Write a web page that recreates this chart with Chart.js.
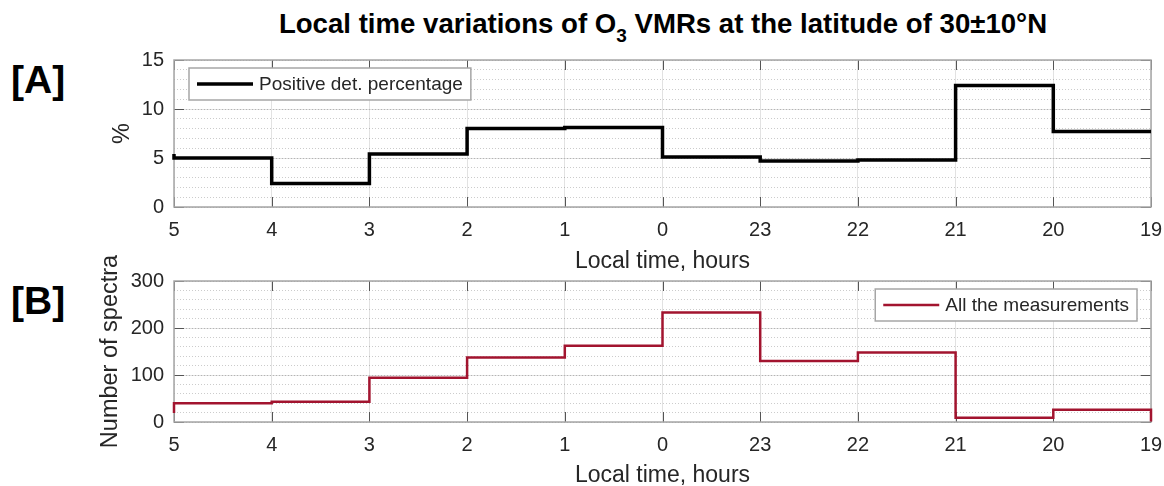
<!DOCTYPE html>
<html>
<head>
<meta charset="utf-8">
<script src="https://cdn.jsdelivr.net/npm/chart.js@4.4.1/dist/chart.umd.min.js"></script>
<style>
  body { margin: 0; width: 1164px; height: 486px; overflow: hidden; background: #fff;
         font-family: "Liberation Sans", Arial, sans-serif; }
  .panel { position: absolute; left: 0; width: 1164px; }
  #panelA { top: 0; height: 280px; }
  #panelB { top: 240px; height: 270px; }
  #title { position: absolute; top: 10px; left: 663px; transform: translateX(-50%); white-space: nowrap;
           font-weight: bold; font-size: 27.6px; line-height: 1; color: #000; }
  #title sub { font-size: 19px; vertical-align: -9px; line-height: 0; }
  .tag { position: absolute; left: 11px; font-weight: bold; font-size: 39px; line-height: 1; color: #000; }
</style>
</head>
<body>
<div id="title">Local time variations of O<sub>3</sub> VMRs at the latitude of 30&plusmn;10&deg;N</div>
<div class="tag" style="top:60px">[A]</div>
<div class="tag" style="top:281px">[B]</div>
<div class="panel" id="panelA"><canvas id="chartA"></canvas></div>
<div class="panel" id="panelB"><canvas id="chartB"></canvas></div>
<script>
// hour boundaries, read right-to-left in local time
const hourLabels = ['5', '4', '3', '2', '1', '0', '23', '22', '21', '20', '19'];

// one value per hour bin
const positivePct = [5.0, 2.4, 5.4, 8.0, 8.1, 5.1, 4.7, 4.8, 12.4, 7.7];
const positivePctEnds = [5.4, 7.7];
const spectraCount = [40, 43, 94, 137, 162, 233, 130, 148, 9, 26];
const spectraCountEnds = [19, 1];

const pctTicks = [0, 5, 10, 15];
const countTicks = [0, 100, 200, 300];

const TEXT = '#262626';
const FONT = '"Liberation Sans", Arial, sans-serif';

// stairs: lead-in at the left edge, one step per bin, closing drop at the right edge
function stairs(values, ends) {
  const pts = [{ x: 0, y: ends[0] }];
  values.forEach((v, i) => pts.push({ x: i, y: v }));
  pts.push({ x: values.length, y: values[values.length - 1] });
  pts.push({ x: values.length, y: ends[1] });
  return pts;
}

// axes box, inward tick marks and a boxed legend
const framePlugin = {
  id: 'frame',
  beforeDatasetsDraw(chart) {
    const { ctx, chartArea: a, scales } = chart;
    ctx.save();
    ctx.strokeStyle = '#555';
    ctx.lineWidth = 1;
    ctx.beginPath();
    scales.x.ticks.forEach(t => {
      const px = Math.round(scales.x.getPixelForValue(t.value)) + 0.5;
      ctx.moveTo(px, a.bottom); ctx.lineTo(px, a.bottom - 10);
      ctx.moveTo(px, a.top); ctx.lineTo(px, a.top + 10);
    });
    scales.y.ticks.forEach(t => {
      const py = Math.round(scales.y.getPixelForValue(t.value)) + 0.5;
      ctx.moveTo(a.left, py); ctx.lineTo(a.left + 10, py);
      ctx.moveTo(a.right, py); ctx.lineTo(a.right - 10, py);
    });
    ctx.stroke();
    ctx.strokeStyle = '#a6a6a6';
    ctx.lineWidth = 1.5;
    ctx.strokeRect(a.left, a.top, a.width, a.height);
    ctx.restore();
  },
  afterDatasetsDraw(chart, args, opts) {
    const { ctx, chartArea: a } = chart;
    const ds = chart.data.datasets[0];
    ctx.save();
    ctx.font = '19px ' + FONT;
    const tw = ctx.measureText(ds.label).width;
    const w = 8 + 56 + 6 + tw + 8, h = 32;
    const x0 = opts.align === 'left' ? a.left + 15 : a.right - 14 - w;
    const y0 = a.top + 8;
    ctx.fillStyle = '#fff';
    ctx.fillRect(x0, y0, w, h);
    ctx.strokeStyle = '#a6a6a6';
    ctx.lineWidth = 1.5;
    ctx.strokeRect(x0, y0, w, h);
    ctx.strokeStyle = ds.borderColor;
    ctx.lineWidth = ds.borderWidth;
    ctx.beginPath();
    ctx.moveTo(x0 + 8, y0 + h / 2);
    ctx.lineTo(x0 + 64, y0 + h / 2);
    ctx.stroke();
    ctx.fillStyle = TEXT;
    ctx.textBaseline = 'middle';
    ctx.fillText(ds.label, x0 + 70, y0 + h / 2 + 1);
    ctx.restore();
  }
};

function makePanel(id, p) {
  return new Chart(id, {
    type: 'line',
    data: {
      datasets: [{
        label: p.label,
        data: stairs(p.values, p.ends),
        borderColor: p.color,
        borderWidth: p.width,
        pointRadius: 0,
        stepped: 'before',
        clip: false,
        xAxisID: 'x',
        yAxisID: 'y'
      }]
    },
    options: {
      responsive: true,
      maintainAspectRatio: false,
      animation: false,
      events: [],
      layout: { padding: { top: p.padTop, right: 13, left: 0, bottom: 0 } },
      plugins: {
        legend: { display: false },
        tooltip: { enabled: false },
        frame: { align: p.legendAlign }
      },
      scales: {
        x: {
          type: 'linear',
          min: 0,
          max: hourLabels.length - 1,
          afterFit: s => { s.height = p.xHeight; s.paddingLeft = 0; s.paddingRight = 0; },
          afterBuildTicks: s => { s.ticks = hourLabels.map((_, i) => ({ value: i })); },
          ticks: { color: TEXT, font: { family: FONT, size: 20 }, padding: 11, maxRotation: 0, autoSkip: false,
                   callback: v => hourLabels[v] },
          grid: { color: '#e2e2e2', drawTicks: false },
          border: { display: false },
          title: { display: true, text: 'Local time, hours', color: TEXT, font: { family: FONT, size: 23 },
                   padding: { top: 0, bottom: p.xTitlePad } }
        },
        y: {
          min: 0,
          max: p.ticks[p.ticks.length - 1],
          afterFit: s => { s.width = 174; },
          afterBuildTicks: s => { s.ticks = p.ticks.map(v => ({ value: v })); },
          ticks: { color: TEXT, font: { family: FONT, size: 20 }, padding: 10 },
          grid: { color: '#e2e2e2', drawTicks: false },
          border: { display: false },
          title: { display: true, text: p.yTitle, color: TEXT, font: { family: FONT, size: 23.5 },
                   padding: { top: p.yTitlePad, bottom: 0 } }
        },
        yMinor: {
          position: 'right',
          min: 0,
          max: p.ticks[p.ticks.length - 1],
          afterFit: s => { s.width = 0; },
          ticks: { display: false, stepSize: p.minorStep, maxTicksLimit: 50 },
          grid: { color: 'rgba(0,0,0,0.2)', drawTicks: false },
          border: { display: false, dash: [1, 2] }
        }
      }
    },
    plugins: [framePlugin]
  });
}

makePanel('chartA', {
  label: 'Positive det. percentage',
  values: positivePct, ends: positivePctEnds,
  color: '#000000', width: 3.5,
  ticks: pctTicks, minorStep: 1,
  yTitle: '%', yTitlePad: 108,
  padTop: 60, xHeight: 73, xTitlePad: 5,
  legendAlign: 'left'
});

makePanel('chartB', {
  label: 'All the measurements',
  values: spectraCount, ends: spectraCountEnds,
  color: '#a2142f', width: 2.5,
  ticks: countTicks, minorStep: 20,
  yTitle: 'Number of spectra', yTitlePad: 96,
  padTop: 41, xHeight: 88, xTitlePad: 21,
  legendAlign: 'right'
});
</script>
</body>
</html>
